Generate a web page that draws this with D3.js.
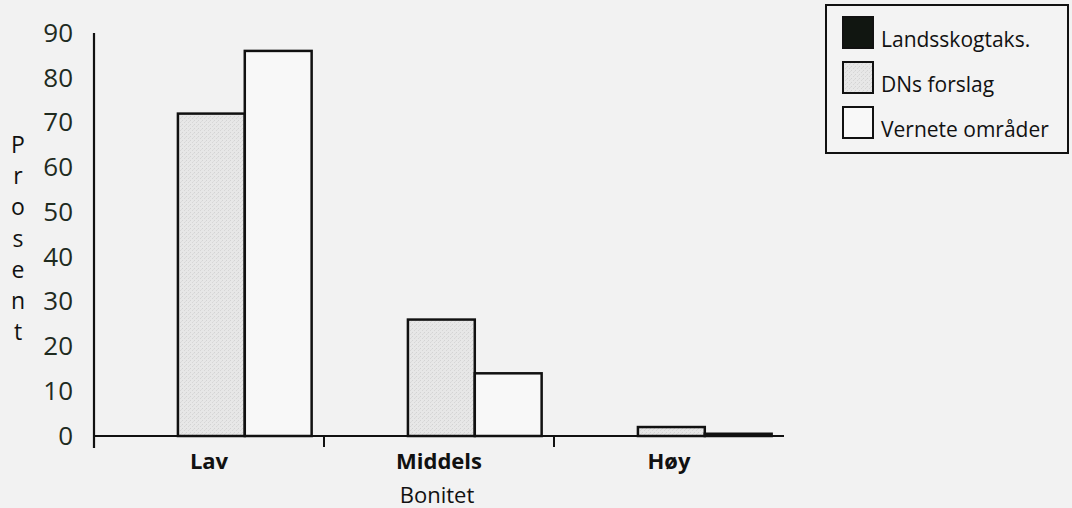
<!DOCTYPE html>
<html>
<head>
<meta charset="utf-8">
<script src="https://cdn.jsdelivr.net/npm/d3@7/dist/d3.min.js"></script>
<style>
  html, body { margin: 0; padding: 0; background: #f2f2f2; }
  svg { display: block; font-family: "Open Sans", "Noto Sans", sans-serif; }
</style>
</head>
<body>
<svg id="chart" width="1072" height="508"></svg>
<script>
// Bonitet categories and share (prosent) per source
const categories = ["Lav", "Middels", "Høy"];
const seriesNames = ["Landsskogtaks.", "DNs forslag", "Vernete områder"];
const landsskogtaks = [null, null, null];
const dnsForslag = [72, 26, 2];
const verneteOmrader = [86, 14, 0.5];
const yTicks = [0, 10, 20, 30, 40, 50, 60, 70, 80, 90];
const yTitle = "Prosent";
const xTitle = "Bonitet";

const seriesValues = [landsskogtaks, dnsForslag, verneteOmrader];

const svg = d3.select("#chart");
const margin = { left: 94, right: 288, top: 33, bottom: 72 };

// stippled grey fill for the DNs bars
const defs = svg.append("defs");
const pat = defs.append("pattern")
  .attr("id", "stipple").attr("width", 4).attr("height", 4)
  .attr("patternUnits", "userSpaceOnUse");
pat.append("rect").attr("width", 4).attr("height", 4).attr("fill", "#e7e7e7");
pat.append("rect").attr("x", 0).attr("y", 0).attr("width", 1).attr("height", 1).attr("fill", "#d3d3d3");
pat.append("rect").attr("x", 2).attr("y", 2).attr("width", 1).attr("height", 1).attr("fill", "#d6d6d6");
pat.append("rect").attr("x", 3).attr("y", 1).attr("width", 1).attr("height", 1).attr("fill", "#dcdcdc");

const fills = ["#111611", "url(#stipple)", "#f8f8f8"];

const x0 = d3.scaleBand().domain(categories)
  .range([margin.left, 784]).paddingInner(0).paddingOuter(0);
const x1 = d3.scaleBand().domain(seriesNames)
  .range([0, x0.bandwidth()]).paddingInner(0).paddingOuter(0.22).align(0.58);
const y = d3.scaleLinear().domain([0, 90]).range([436, 33]);

// bars
const groups = svg.append("g").selectAll("g")
  .data(categories).join("g")
  .attr("transform", d => `translate(${x0(d)},0)`);

groups.selectAll("rect")
  .data((c, i) => seriesNames.map((s, k) => ({ s, k, v: seriesValues[k][i] }))
    .filter(d => d.v != null))
  .join("rect")
  .attr("x", d => x1(d.s))
  .attr("y", d => y(d.v))
  .attr("width", x1.bandwidth())
  .attr("height", d => y(0) - y(d.v))
  .attr("fill", d => fills[d.k])
  .attr("stroke", "#111")
  .attr("stroke-width", 2.5);

// y axis: line and labels without tick marks
const yAxis = svg.append("g")
  .attr("transform", `translate(${margin.left},0)`)
  .call(d3.axisLeft(y).tickValues(yTicks).tickSize(0).tickPadding(21).tickFormat(d3.format("d")));
yAxis.select(".domain").remove();
yAxis.selectAll("text")
  .attr("font-size", 26).attr("fill", "#1f2b1f")
  .attr("font-family", "'Open Sans', sans-serif");
svg.append("line")
  .attr("x1", margin.left).attr("x2", margin.left)
  .attr("y1", y(90)).attr("y2", y(0) + 12)
  .attr("stroke", "#111").attr("stroke-width", 2.2);

// x axis baseline with boundary ticks
const xAxis = svg.append("g")
  .attr("transform", `translate(0,${y(0)})`)
  .call(d3.axisBottom(x0).tickSize(0).tickPadding(17));
xAxis.select(".domain")
  .attr("d", `M${margin.left},0H784`)
  .attr("stroke", "#111").attr("stroke-width", 2.2);
xAxis.selectAll("text")
  .attr("font-size", 22).attr("font-weight", "bold").attr("fill", "#111")
  .attr("font-family", "'Open Sans', sans-serif");
xAxis.selectAll(".bound")
  .data(categories.slice(1))
  .join("line")
  .attr("class", "bound")
  .attr("x1", d => x0(d)).attr("x2", d => x0(d))
  .attr("y1", 0).attr("y2", 11)
  .attr("stroke", "#111").attr("stroke-width", 2);

// axis titles
svg.append("text")
  .attr("x", (margin.left + 784) / 2 - 2).attr("y", 503)
  .attr("text-anchor", "middle").attr("font-size", 22).attr("fill", "#111")
  .text(xTitle);

svg.append("g").selectAll("text")
  .data(yTitle.split(""))
  .join("text")
  .attr("x", 18).attr("y", (d, i) => 153 + i * 31.2)
  .attr("text-anchor", "middle").attr("font-size", 23).attr("fill", "#111")
  .text(d => d);

// legend
const legend = svg.append("g");
legend.append("rect")
  .attr("x", 826).attr("y", 5).attr("width", 242).attr("height", 148)
  .attr("fill", "#f3f3f3").attr("stroke", "#111").attr("stroke-width", 2);
const items = legend.selectAll("g.item")
  .data(seriesNames).join("g").attr("class", "item")
  .attr("transform", (d, i) => `translate(843,${17 + i * 45})`);
items.append("rect")
  .attr("width", 30).attr("height", 31)
  .attr("fill", (d, i) => fills[i])
  .attr("stroke", "#111").attr("stroke-width", 2);
items.append("text")
  .attr("x", 38).attr("y", 30)
  .attr("font-size", 21).attr("fill", "#111")
  .text(d => d);
</script>
</body>
</html>
